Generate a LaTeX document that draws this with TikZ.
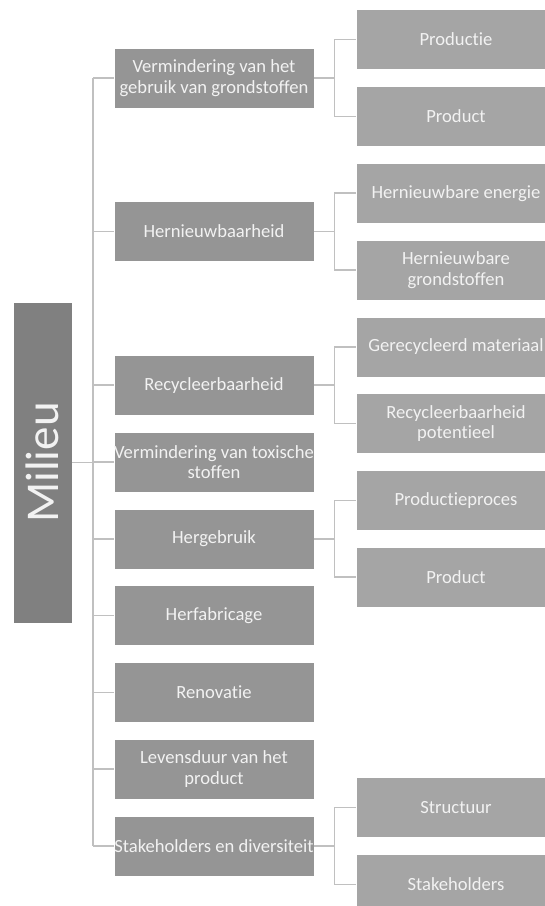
\documentclass[tikz,border=0pt]{standalone}
\usepackage{fontspec}
\setmainfont{Carlito}[Ligatures=NoCommon]
\definecolor{midgray}{HTML}{959595}
\definecolor{leafgray}{HTML}{A5A5A5}
\definecolor{rootgray}{HTML}{808080}
\definecolor{linegray}{HTML}{C0C0C0}
\definecolor{txt}{HTML}{F2F2F2}
\begin{document}
\begin{tikzpicture}[x=1pt,y=-1pt,
  mid/.style={fill=midgray, draw=white, line width=0.6pt, minimum width=200pt, minimum height=60pt, inner sep=0pt, text=txt, font=\fontsize{18.6}{20.5}\selectfont, align=center},
  leaf/.style={mid, fill=leafgray},
  root/.style={fill=rootgray, draw=white, line width=0.6pt, minimum width=321pt, minimum height=59pt, inner sep=0pt, text=txt, font=\fontsize{47}{50}\selectfont, rotate=90},
  conn/.style={draw=linegray, line width=1.5pt}]
\useasboundingbox (0,0) rectangle (545,906);
\clip (0,0) rectangle (545,906);
\fill[white] (0,0) rectangle (545,906);

% root
\node[root] (root) at (42.5,462.5) {Milieu};

% middle column
\node[mid] (m1) at (214,78)    {Vermindering van het\\gebruik van grondstoffen};
\node[mid] (m2) at (214,231.6) {Hernieuwbaarheid};
\node[mid] (m3) at (214,385.2) {Recycleerbaarheid};
\node[mid] (m4) at (214,462)   {Vermindering van toxische\\stoffen};
\node[mid] (m5) at (214,538.8) {Hergebruik};
\node[mid] (m6) at (214,615.6) {Herfabricage};
\node[mid] (m7) at (214,692.4) {Renovatie};
\node[mid] (m8) at (214,769.2) {Levensduur van het\\product};
\node[mid] (m9) at (214,846)   {Stakeholders en diversiteit};

% leaves
\node[leaf] (l1a) at (456,39.6)  {Productie};
\node[leaf] (l1b) at (456,116.4) {Product};
\node[leaf] (l2a) at (456,193.2) {Hernieuwbare energie};
\node[leaf] (l2b) at (456,270)   {Hernieuwbare\\grondstoffen};
\node[leaf] (l3a) at (456,346.8) {Gerecycleerd materiaal};
\node[leaf] (l3b) at (456,423.6) {Recycleerbaarheid\\potentieel};
\node[leaf] (l5a) at (456,500.4) {Productieproces};
\node[leaf] (l5b) at (456,577.2) {Product};
\node[leaf] (l9a) at (456,807.6) {Structuur};
\node[leaf] (l9b) at (456,884.4) {Stakeholders};

% trunk
\coordinate (ttop) at (93,78);
\coordinate (tbot) at (93,846);
\draw[conn] (ttop) -- (tbot);
\draw[conn] (root.south) -- (root.south -| ttop);
\foreach \m in {m1,m2,m3,m4,m5,m6,m7,m8,m9}{
  \draw[conn] (\m.west) -- (\m.west -| ttop);
}

% brackets
\foreach \m/\a/\b in {m1/l1a/l1b, m2/l2a/l2b, m3/l3a/l3b, m5/l5a/l5b, m9/l9a/l9b}{
  \draw[conn] (\m.east) -- ++(21,0);
  \draw[conn] (\a.west) -- ++(-21,0) |- (\b.west);
}
\end{tikzpicture}
\end{document}
